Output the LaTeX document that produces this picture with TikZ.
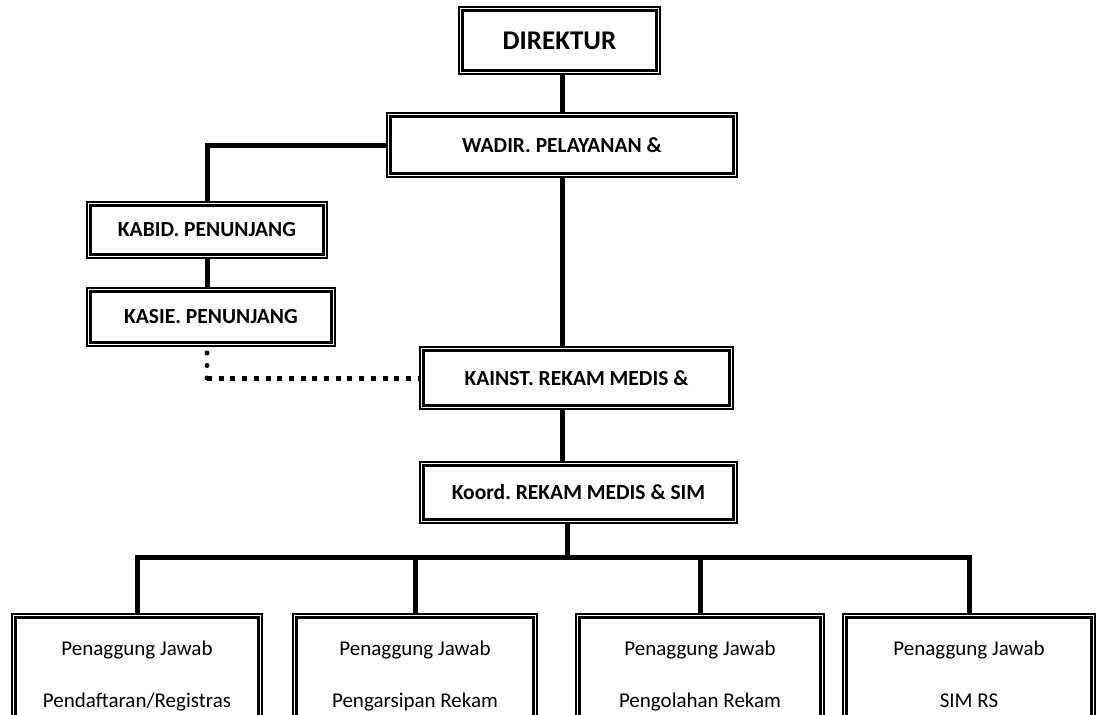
\documentclass[tikz,border=0pt]{standalone}
\usepackage{fontspec}
\setmainfont{Carlito}
\usetikzlibrary{positioning}

\begin{document}
\frenchspacing
\begin{tikzpicture}[x=1pt, y=-1pt,
    box/.style={draw, line width=1.8pt, inner sep=0pt,
      append after command={\pgfextra{\draw[line width=2.6pt]
        ([shift={(4.5pt,-4.5pt)}]\tikzlastnode.north west) rectangle
        ([shift={(-4.5pt,4.5pt)}]\tikzlastnode.south east);}}},
    lab/.style={font=\fontsize{21.5}{25}\selectfont\bfseries},
    pj/.style={box, minimum height=124pt, align=center,
      font=\fontsize{21}{52}\selectfont},
    link/.style={line width=5pt},
    dotlink/.style={line width=5pt, line cap=round, dash pattern=on 0pt off 12.5pt},
    dashlink/.style={line width=5pt, dash pattern=on 5pt off 6.7pt}]
    \clip (0,0) rectangle (1096,715);

    \node[box, minimum width=201pt, minimum height=67pt,
      font=\fontsize{27}{32}\selectfont\bfseries] (dir) at (559.5,40.5) {DIREKTUR};
    \node[box, lab, minimum width=350pt, minimum height=64pt] (wadir) at (562,145) {WADIR. PELAYANAN \&};
    \node[box, lab, minimum width=240pt, minimum height=56pt] (kabid) at (207,230) {KABID. PENUNJANG};
    \node[box, lab, minimum width=248pt, minimum height=58pt] (kasie) at (211,317) {KASIE. PENUNJANG};
    \node[box, lab, minimum width=313pt, minimum height=62pt] (kainst) at (576.5,378) {KAINST. REKAM MEDIS \&};
    \node[box, lab, minimum width=317pt, minimum height=61pt] (koord) at (578.5,492.5) {Koord. REKAM MEDIS \& SIM};

    \node[pj, minimum width=250pt] (pj1) at (137,676) {Penaggung Jawab\\Pendaftaran/Registras};
    \node[pj, minimum width=244pt] (pj2) at (415,676) {Penaggung Jawab\\Pengarsipan Rekam};
    \node[pj, minimum width=248pt] (pj3) at (700,676) {Penaggung Jawab\\Pengolahan Rekam};
    \node[pj, minimum width=252pt] (pj4) at (969,676) {Penaggung Jawab\\SIM RS\vphantom{g}};

    % garis komando
    \draw[link] (wadir.north) -- (wadir.north |- dir.south);
    \draw[link] (wadir.west) -| (kabid.north);
    \draw[link] (kabid.south) -- (kabid.south |- kasie.north);
    \draw[link] (wadir.south) -- (wadir.south |- kainst.north);
    \draw[link] (wadir.south |- kainst.south) -- (wadir.south |- koord.north);

    \coordinate (bus) at (567,557);
    \draw[link] (bus |- koord.south) -- (bus);
    \draw[link] (pj1.north) |- (bus) -| (pj4.north);
    \foreach \n in {pj2,pj3}
        \draw[link] (\n.north |- bus) -- (\n.north);

    % garis koordinasi
    \coordinate (bend) at (kabid.south |- kainst.west);
    \draw[dotlink] (bend) -- ([yshift=3pt]kasie.south -| bend);
    \draw[dashlink] (bend) -- (kainst.west);
\end{tikzpicture}
\end{document}
